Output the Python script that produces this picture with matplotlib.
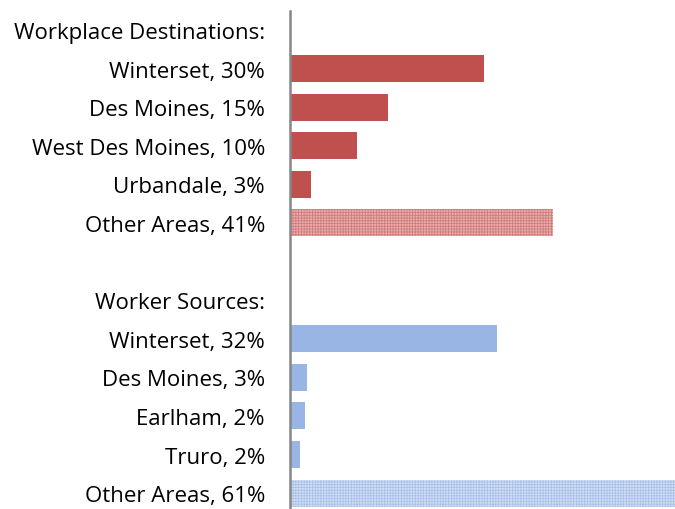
import numpy as np
import matplotlib
matplotlib.use("Agg")
import matplotlib.pyplot as plt

# chart data
labels = [
    "Workplace Destinations:",
    "Winterset, 30%",
    "Des Moines, 15%",
    "West Des Moines, 10%",
    "Urbandale, 3%",
    "Other Areas, 41%",
    "",
    "Worker Sources:",
    "Winterset, 32%",
    "Des Moines, 3%",
    "Earlham, 2%",
    "Truro, 2%",
    "Other Areas, 61%",
]
# bar lengths (percent); labels carry the rounded values
values = [0, 30.1, 15.2, 10.4, 3.3, 40.8, 0, 0, 32.1, 2.6, 2.3, 1.6, 61]
groups = ["", "dest", "dest", "dest", "dest", "dest_other", "", "", "src", "src", "src", "src", "src_other"]

styles = {
    "dest": dict(color="#C0504D"),
    "dest_other": dict(facecolor="#E8B0AF", edgecolor="#D27C7A", hatch="++++++", linewidth=0),
    "src": dict(color="#98B5E3"),
    "src_other": dict(facecolor="#D3E0F5", edgecolor="#A9C1E8", hatch="++++++", linewidth=0),
}

plt.rcParams["font.family"] = ["Open Sans", "DejaVu Sans"]
plt.rcParams["hatch.linewidth"] = 0.6

fig = plt.figure(figsize=(6.75, 5.1), dpi=100)
ax = fig.add_axes([290 / 675, 0, 385 / 675, 498.3 / 510])

y = np.arange(len(labels))
for i, (v, g) in enumerate(zip(values, groups)):
    if g:
        ax.barh(y[i], v, height=0.7, **styles[g])

ax.set_xlim(0, 59.7)
ax.set_ylim(12.41, -0.5)
ax.set_yticks(y)
ax.set_yticklabels(labels, fontsize=16)
ax.tick_params(axis="y", length=0, pad=18)
ax.set_xticks([])
for s in ["top", "right", "bottom"]:
    ax.spines[s].set_visible(False)
ax.spines["left"].set_color("#868686")
ax.spines["left"].set_linewidth(1.8)
ax.spines["left"].set_zorder(3)

fig.savefig("out.png", dpi=100)
